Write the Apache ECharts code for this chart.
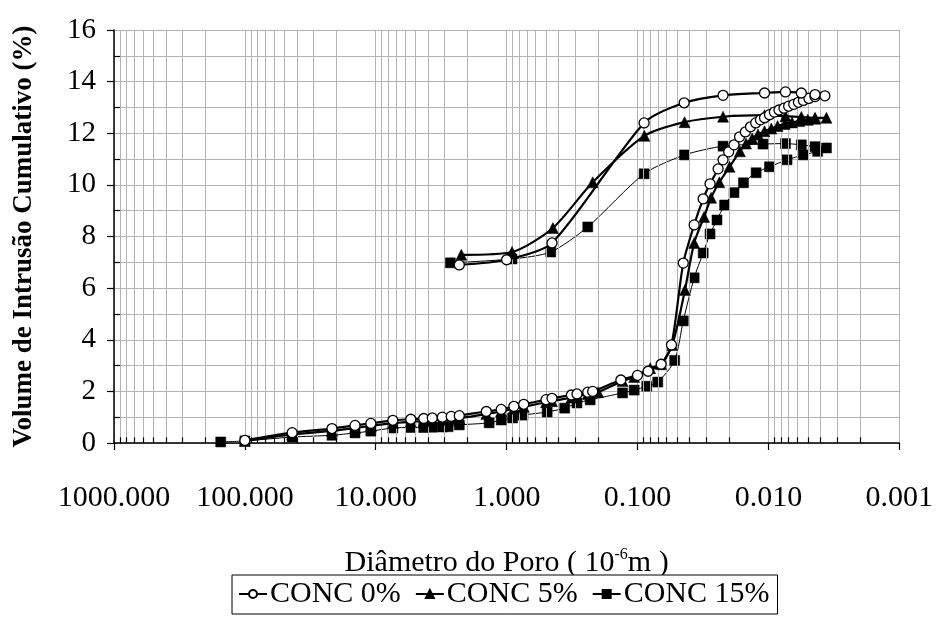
<!DOCTYPE html>
<html>
<head>
<meta charset="utf-8">
<script src="https://cdn.jsdelivr.net/npm/echarts@6/dist/echarts.min.js"></script>
<style>html,body{margin:0;padding:0;background:#fff}#c{width:936px;height:619px}</style>
</head>
<body>
<div id="c"></div>
<script>
// Pore diameter (10^-6 m) and cumulative intrusion volume (%) — intrusion then extrusion
var conc0Intrusion = [[100,0.1],[43.5,0.4],[21.6,0.56],[14.4,0.68],[10.9,0.76],[7.4,0.88],[5.4,0.92],[4.3,0.95],[3.7,0.97],[3.1,1.0],[2.65,1.03],[2.3,1.06],[1.43,1.22],[1.1,1.3],[0.88,1.42],[0.74,1.5],[0.5,1.68],[0.45,1.73],[0.32,1.86],[0.29,1.9],[0.24,1.97],[0.22,2.0],[0.134,2.44],[0.1,2.62],[0.083,2.78],[0.066,3.05],[0.055,3.8],[0.0447,6.97],[0.0369,8.45],[0.0315,9.46],[0.0279,10.04],[0.0242,10.62],[0.0222,10.97],[0.0201,11.28],[0.0183,11.55],[0.0166,11.86],[0.015,12.05],[0.0137,12.25],[0.0125,12.4],[0.0115,12.52],[0.0107,12.6],[0.0098,12.72],[0.009,12.82],[0.0083,12.9],[0.0076,12.97],[0.007,13.05],[0.0064,13.12],[0.0059,13.2],[0.0054,13.27],[0.0049,13.35],[0.0044,13.42],[0.0037,13.45]];
var conc0Extrusion = [[0.0044,13.5],[0.0056,13.56],[0.0074,13.6],[0.0107,13.56],[0.0222,13.47],[0.044,13.18],[0.089,12.4],[0.45,7.75],[1.0,7.1],[2.3,6.9]];

var conc5Intrusion = [[100,0.08],[43.5,0.33],[21.6,0.47],[14.4,0.58],[10.9,0.66],[7.4,0.77],[5.4,0.82],[4.3,0.85],[3.7,0.87],[3.1,0.9],[2.65,0.93],[2.3,0.96],[1.43,1.12],[1.1,1.22],[0.88,1.33],[0.74,1.4],[0.5,1.58],[0.45,1.62],[0.32,1.76],[0.29,1.8],[0.24,1.9],[0.2,1.97],[0.13,2.4],[0.106,2.56],[0.08,2.9],[0.066,3.05],[0.0542,3.8],[0.0434,5.93],[0.0369,7.75],[0.031,8.76],[0.0274,9.5],[0.0237,10.1],[0.0198,10.7],[0.0165,11.3],[0.0148,11.6],[0.0133,11.8],[0.012,11.95],[0.0107,12.08],[0.0095,12.18],[0.0085,12.28],[0.0075,12.36],[0.0066,12.42],[0.0058,12.47],[0.005,12.52],[0.0044,12.56],[0.0036,12.6]];
var conc5Extrusion = [[0.0044,12.6],[0.0056,12.63],[0.0074,12.66],[0.0107,12.7],[0.0222,12.64],[0.0437,12.43],[0.0886,11.9],[0.22,10.1],[0.443,8.33],[0.91,7.4],[2.22,7.29]];

var conc15Intrusion = [[153,0.04],[100,0.08],[43.5,0.23],[21.6,0.3],[14.4,0.39],[10.9,0.46],[7.4,0.58],[5.4,0.6],[4.3,0.6],[3.7,0.61],[3.1,0.62],[2.8,0.63],[2.3,0.7],[1.36,0.78],[1.1,0.89],[0.9,0.97],[0.75,1.08],[0.49,1.2],[0.36,1.35],[0.29,1.55],[0.23,1.67],[0.13,1.94],[0.106,2.05],[0.085,2.2],[0.07,2.36],[0.052,3.2],[0.0447,4.73],[0.0369,6.4],[0.0315,7.36],[0.0279,8.1],[0.0247,8.64],[0.0216,9.22],[0.0183,9.7],[0.0155,10.08],[0.0124,10.47],[0.0098,10.7],[0.0072,10.97],[0.0054,11.16],[0.0042,11.3],[0.0036,11.43]];
var conc15Extrusion = [[0.0044,11.48],[0.0056,11.55],[0.0074,11.6],[0.011,11.58],[0.0222,11.5],[0.0437,11.16],[0.089,10.43],[0.24,8.37],[0.46,7.4],[0.91,7.13],[2.69,6.98]];

var seriesNames = ['CONC 0%', 'CONC 5%', 'CONC 15%'];
var xTickLabels = ['1000.000','100.000','10.000','1.000','0.100','0.010','0.001'];
var yTickValues = [0,2,4,6,8,10,12,14,16];

var FONT = '"Liberation Serif", "Times New Roman", serif';
var GRID_GRAY = '#b3b3b3';

// minor log gridline positions (2..9 within each decade)
var minorX = [];
for (var k = -3; k < 3; k++) {
  for (var m = 2; m <= 9; m++) minorX.push(Number((m * Math.pow(10, k)).toPrecision(6)));
}
var gridLines = minorX.map(function (v) {
  return [{ coord: [v, 0] }, { coord: [v, 16] }];
});
var tickSegs = minorX.map(function (v) {
  return [{ coord: [v, 0] }, { coord: [v, 0.22] }];
});
for (var y = 1; y < 16; y += 2) tickSegs.push([{ coord: [1000, y] }, { coord: [900, y] }]);

var chart = echarts.init(document.getElementById('c'), null, { renderer: 'canvas' });
chart.setOption({
  animation: false,
  backgroundColor: '#fff',
  grid: { left: 114, right: 33, top: 30, bottom: 176, containLabel: false },
  xAxis: {
    type: 'log', logBase: 10, min: 0.001, max: 1000, interval: 1, inverse: true,
    name: '{a|Diâmetro do Poro ( 10}{s|-6}{a|m )}',
    nameLocation: 'middle', nameGap: 104,
    nameTextStyle: {
      rich: {
        a: { fontFamily: FONT, fontSize: 30, color: '#000', lineHeight: 32 },
        s: { fontFamily: FONT, fontSize: 16, color: '#000', verticalAlign: 'top', lineHeight: 32 }
      }
    },
    axisLine: { show: true, lineStyle: { color: '#000', width: 1.5 } },
    axisTick: { show: true, inside: false, length: 7, lineStyle: { color: '#000', width: 1.2 } },
    axisLabel: {
      margin: 40, color: '#000', fontFamily: FONT, fontSize: 30,
      formatter: function (v) {
        var e = Math.round(Math.log10(v));
        return xTickLabels[3 - e];
      }
    },
    splitLine: { show: true, lineStyle: { color: GRID_GRAY, width: 1 } }
  },
  yAxis: {
    type: 'value', min: 0, max: 16, interval: 2,
    name: 'Volume de Intrusão Cumulativo (%)',
    nameLocation: 'middle', nameGap: 76, nameRotate: 90,
    nameTextStyle: { fontFamily: FONT, fontSize: 27, fontWeight: 'bold', color: '#000' },
    axisLine: { show: true, lineStyle: { color: '#000', width: 1.5 } },
    axisTick: { show: true, inside: false, length: 7, lineStyle: { color: '#000', width: 1.2 } },
    axisLabel: { margin: 18, color: '#000', fontFamily: FONT, fontSize: 29,
      formatter: function (v) { return yTickValues.indexOf(v) >= 0 ? String(v) : ''; } },
    splitLine: { show: true, lineStyle: { color: GRID_GRAY, width: 1 } },
    minorTick: { show: false, splitNumber: 2 },
    minorSplitLine: { show: true, lineStyle: { color: GRID_GRAY, width: 1 } }
  },
  legend: {
    data: seriesNames,
    bottom: 5, left: 232,
    orient: 'horizontal',
    backgroundColor: '#fff',
    borderColor: '#000', borderWidth: 1, borderRadius: 0,
    padding: [4, 8, 5, 6],
    itemGap: 14, itemWidth: 28, itemHeight: 10,
    textStyle: { fontFamily: FONT, fontSize: 30, color: '#000', padding: [0, 0, 0, -2] }
  },
  series: [
    {
      name: 'grid', type: 'line', data: [], silent: true, z: 1,
      markLine: {
        silent: true, animation: false, symbol: ['none', 'none'],
        label: { show: false },
        lineStyle: { color: GRID_GRAY, width: 1, type: 'solid' },
        emphasis: { disabled: true },
        data: gridLines
      }
    },
    {
      name: 'ticks', type: 'line', data: [], silent: true, z: 3,
      markLine: {
        silent: true, animation: false, symbol: ['none', 'none'],
        label: { show: false },
        lineStyle: { color: '#000', width: 1.2, type: 'solid' },
        emphasis: { disabled: true },
        data: tickSegs
      }
    },
    {
      name: seriesNames[0], type: 'line', z: 6,
      data: conc0Intrusion.concat(conc0Extrusion),
      smooth: 0.25,
      symbol: 'circle', symbolSize: 10,
      itemStyle: { color: '#fff', borderColor: '#000', borderWidth: 1.3 },
      lineStyle: { color: '#000', width: 2.2 }
    },
    {
      name: seriesNames[1], type: 'line', z: 5,
      data: conc5Intrusion.concat(conc5Extrusion),
      smooth: 0.25,
      symbol: 'triangle', symbolSize: 11,
      itemStyle: { color: '#000', borderColor: '#000', borderWidth: 0.5 },
      lineStyle: { color: '#000', width: 2.2 }
    },
    {
      name: seriesNames[2], type: 'line', z: 4,
      data: conc15Intrusion.concat(conc15Extrusion),
      smooth: 0.25,
      symbol: 'rect', symbolSize: 10,
      itemStyle: { color: '#000', borderColor: '#000', borderWidth: 0.5 },
      lineStyle: { color: '#000', width: 1 }
    }
  ]
});
</script>
</body>
</html>
